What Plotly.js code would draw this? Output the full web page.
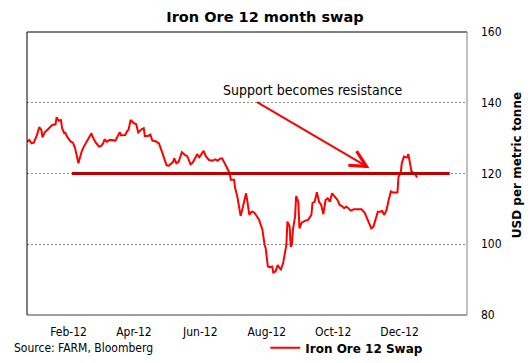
<!DOCTYPE html>
<html>
<head>
<meta charset="utf-8">
<script src="https://cdn.plot.ly/plotly-3.0.1.min.js"></script>
<style>html,body{margin:0;padding:0;background:#fff;}#chart{width:530px;height:363px;}</style>
</head>
<body>
<div id="chart"></div>
<script>
// ---- data ----
var dates = [
'2011-12-25','2011-12-27','2011-12-29','2011-12-31','2012-01-03','2012-01-05','2012-01-07','2012-01-08','2012-01-10','2012-01-14','2012-01-17','2012-01-20','2012-01-21','2012-01-23','2012-01-25','2012-01-26','2012-01-28','2012-01-29','2012-01-31',
'2012-02-03','2012-02-05','2012-02-07','2012-02-08','2012-02-10','2012-02-11','2012-02-13','2012-02-15','2012-02-17','2012-02-19','2012-02-22','2012-02-23','2012-02-26','2012-02-29',
'2012-03-02','2012-03-04','2012-03-05','2012-03-07','2012-03-10','2012-03-15','2012-03-17','2012-03-19','2012-03-20','2012-03-24','2012-03-26','2012-03-27','2012-03-29',
'2012-04-01','2012-04-03','2012-04-05','2012-04-08','2012-04-10','2012-04-11','2012-04-14','2012-04-16','2012-04-18','2012-04-21','2012-04-24','2012-04-27',
'2012-05-01','2012-05-03','2012-05-07','2012-05-08','2012-05-10','2012-05-12','2012-05-15','2012-05-18','2012-05-20','2012-05-23','2012-05-25','2012-05-28','2012-05-29','2012-05-31',
'2012-06-03','2012-06-04','2012-06-06','2012-06-09','2012-06-12','2012-06-15','2012-06-17','2012-06-19','2012-06-21','2012-06-23','2012-06-25','2012-06-28','2012-06-29',
'2012-07-02','2012-07-03','2012-07-05','2012-07-06','2012-07-08','2012-07-09','2012-07-11','2012-07-13','2012-07-14','2012-07-16','2012-07-18','2012-07-19','2012-07-21','2012-07-23','2012-07-25','2012-07-26','2012-07-28','2012-07-30','2012-07-31',
'2012-08-02','2012-08-04','2012-08-06','2012-08-07','2012-08-09','2012-08-10','2012-08-11','2012-08-13','2012-08-14','2012-08-16','2012-08-19','2012-08-20','2012-08-22','2012-08-23','2012-08-24','2012-08-25','2012-08-27','2012-08-28','2012-08-30','2012-08-31',
'2012-09-02','2012-09-05','2012-09-08','2012-09-11','2012-09-12','2012-09-14','2012-09-16','2012-09-18','2012-09-20','2012-09-22','2012-09-24','2012-09-26','2012-09-28','2012-09-30',
'2012-10-02','2012-10-05','2012-10-07','2012-10-09','2012-10-11','2012-10-13','2012-10-15','2012-10-17','2012-10-20','2012-10-23','2012-10-27','2012-10-30',
'2012-11-01','2012-11-03','2012-11-05','2012-11-07','2012-11-09','2012-11-11','2012-11-13','2012-11-15','2012-11-17','2012-11-19','2012-11-21','2012-11-23','2012-11-25','2012-11-29','2012-11-30',
'2012-12-02','2012-12-03','2012-12-05','2012-12-06','2012-12-08','2012-12-09','2012-12-11','2012-12-12','2012-12-14','2012-12-15','2012-12-17'
];
var swapUSD = [
129.0,129.5,128.5,128.7,130.9,133.1,132.3,130.2,131.6,132.8,133.7,133.9,135.9,134.9,135.1,132.8,131.4,131.5,130.2,
129.0,128.7,127.1,125.7,122.9,124.0,126.2,127.6,128.7,129.7,131.4,130.4,128.7,127.6,
127.8,128.7,129.7,129.0,129.5,129.3,130.4,131.7,130.8,130.9,132.1,132.3,135.1,
134.2,134.0,131.6,132.5,132.8,130.6,130.6,131.0,129.3,129.1,128.5,125.9,
122.3,122.2,123.3,124.3,122.9,123.3,126.0,125.2,124.9,122.6,123.1,124.8,125.5,124.6,
126.2,126.4,124.9,123.8,123.6,124.0,123.6,124.2,124.3,122.9,121.9,120.0,118.2,
118.2,115.8,113.4,111.1,108.0,109.2,111.6,114.4,112.5,108.3,109.2,109.2,108.8,108.0,106.9,105.9,104.2,99.8,98.9,
93.7,93.5,93.7,92.0,92.3,93.7,94.1,93.2,92.9,94.6,99.8,106.4,105.0,99.3,99.8,104.0,107.8,113.6,112.0,104.5,
106.1,106.6,106.9,108.3,111.7,112.0,114.7,112.0,111.1,108.5,112.5,113.0,112.0,114.4,
113.6,112.5,111.1,110.8,110.2,110.6,110.2,109.5,109.9,109.9,109.9,108.9,
107.6,106.1,104.5,105.0,107.1,109.2,109.2,109.4,108.3,109.7,112.5,114.9,114.6,114.6,119.1,
120.0,122.9,124.8,124.6,124.6,125.5,122.4,120.5,120.2,120.0,118.9
];
var seriesName = 'Iron Ore 12 Swap';
var tickDates = ['2012-02-01','2012-04-01','2012-06-01','2012-08-01','2012-10-01','2012-12-01'];
var tickLabels = ['Feb-12','Apr-12','Jun-12','Aug-12','Oct-12','Dec-12'];
var yTicks = [80, 100, 120, 140, 160];
var supportLevel = 120;
var supportStart = '2012-02-04';
var supportEnd = '2013-01-16';
var arrowFrom = ['2012-07-21 17:00', 140.4];
var arrowTo = ['2012-11-03 10:00', 121.5];
var noteText = 'Support becomes resistance';
var notePos = ['2012-09-12 17:00', 143.5];
var titleText = 'Iron Ore 12 month swap';
var yTitleText = 'USD per metric tonne';
var sourceText = 'Source: FARM, Bloomberg';

// ---- chart ----
var FONT = "'DejaVu Sans Condensed', 'DejaVu Sans', sans-serif";
var traces = [{
  type: 'scatter', mode: 'lines', x: dates, y: swapUSD, name: seriesName,
  line: {color: '#ff0000', width: 2}
}];
var layout = {
  width: 530, height: 363,
  margin: {l: 27, r: 63, t: 32, b: 48, pad: 0, autoexpand: false},
  paper_bgcolor: '#ffffff', plot_bgcolor: '#ffffff',
  font: {family: FONT, size: 12, color: '#000'},
  title: {text: titleText, x: 0.5, xref: 'container', xanchor: 'center', y: 0.953, yref: 'container', yanchor: 'middle',
    font: {family: "'DejaVu Sans', sans-serif", size: 14.5, weight: 'bold', color: '#000'}},
  xaxis: {type: 'date', range: ['2011-12-24 19:00', '2013-01-31 22:00'], tickvals: tickDates, ticktext: tickLabels,
    showgrid: false, zeroline: false, showline: false, ticks: '', ticklabelstandoff: 8, automargin: false,
    tickfont: {family: FONT, size: 12, color: '#000'}},
  yaxis: {side: 'right', range: [80, 160], tickvals: yTicks, ticktext: yTicks.map(String), automargin: false,
    showgrid: true, gridcolor: '#8a8a8a', griddash: '2px,2px', gridwidth: 1, zeroline: false, showline: false,
    ticks: '', ticklabelstandoff: 13, tickfont: {family: FONT, size: 12, color: '#000'}},
  showlegend: true,
  legend: {orientation: 'h', x: 0.5416, xanchor: 'left', y: -0.116, yanchor: 'middle', bgcolor: 'rgba(0,0,0,0)',
    font: {family: "'DejaVu Sans', sans-serif", size: 12, weight: 'bold', color: '#000'}},
  shapes: [
    {type: 'line', xref: 'x', yref: 'y', x0: supportStart, x1: supportEnd, y0: supportLevel, y1: supportLevel,
      line: {color: '#c00000', width: 3}, layer: 'above'},
    {type: 'line', xref: 'paper', yref: 'paper', x0: 0, x1: 0, y0: 0, y1: 1, line: {color: '#000', width: 1}},
    {type: 'line', xref: 'paper', yref: 'paper', x0: 0, x1: 1, y0: 1, y1: 1, line: {color: '#000', width: 1}},
    {type: 'line', xref: 'paper', yref: 'paper', x0: 0, x1: 1, y0: 0, y1: 0, line: {color: '#404040', width: 1}},
    {type: 'line', xref: 'paper', yref: 'paper', x0: 1, x1: 1, y0: 0, y1: 1, line: {color: '#808080', width: 1}}
  ],
  annotations: [
    {x: arrowTo[0], y: arrowTo[1], ax: arrowFrom[0], ay: arrowFrom[1], xref: 'x', yref: 'y', axref: 'x', ayref: 'y',
      text: '', showarrow: true, arrowhead: 5, arrowsize: 1.6, arrowwidth: 2, arrowcolor: '#ff0000'},
    {x: notePos[0], y: notePos[1], xref: 'x', yref: 'y', text: noteText, showarrow: false,
      font: {family: FONT, size: 14, color: '#000'}, xanchor: 'center', yanchor: 'middle'},
    {x: 1.114, y: 0.53, xref: 'paper', yref: 'paper', text: yTitleText, textangle: -90, showarrow: false,
      font: {family: "'DejaVu Sans', sans-serif", size: 12, weight: 'bold', color: '#000'}, xanchor: 'center', yanchor: 'middle'},
    {x: -0.0334, y: -0.1172, xref: 'paper', yref: 'paper', text: sourceText, showarrow: false,
      font: {family: FONT, size: 12, color: '#000'}, xanchor: 'left', yanchor: 'middle'}
  ]
};
Plotly.newPlot('chart', traces, layout, {displayModeBar: false, staticPlot: true});
</script>
</body>
</html>
